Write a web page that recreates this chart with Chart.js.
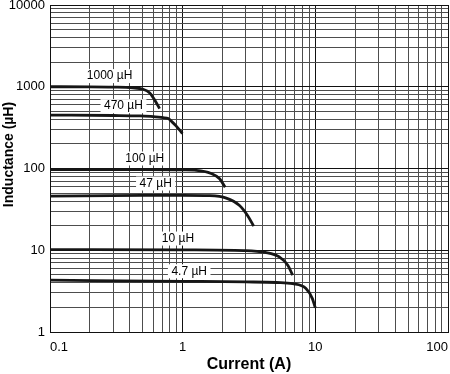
<!DOCTYPE html>
<html>
<head>
<meta charset="utf-8">
<script src="https://cdn.jsdelivr.net/npm/chart.js@4/dist/chart.umd.min.js"></script>
<style>
    html, body { margin: 0; padding: 0; background: #fff; }
    canvas { display: block; }
</style>
</head>
<body>
<canvas id="chart" width="450" height="374"></canvas>
<script>
// inductance vs current, one pair of arrays per part
const current_1000 = [0.1, 0.2, 0.3, 0.42, 0.5, 0.565, 0.615, 0.67];
const induct_1000 = [1000, 998, 990, 970, 935, 840, 690, 540];
const current_470 = [0.1, 0.3, 0.475, 0.6, 0.71, 0.78, 0.82, 0.895, 0.995];
const induct_470 = [450, 445, 440, 432, 418, 409, 380, 330, 268];
const current_100 = [0.1, 0.5, 1.0, 1.27, 1.64, 1.9, 2.09];
const induct_100 = [97, 97, 96, 95, 87, 75, 59];
const current_47 = [0.1, 0.5, 1.0, 1.6, 2.13, 2.67, 3.1, 3.43];
const induct_47 = [46, 46.8, 47, 46.5, 43.5, 35.5, 26.3, 19.7];
const current_10 = [0.1, 1, 2.9, 4.2, 5.35, 6.2, 6.75];
const induct_10 = [10.2, 10.1, 9.9, 9.4, 8.3, 6.55, 4.95];
const current_4_7 = [0.1, 1, 3, 5.1, 6.75, 8.5, 9.5, 10.0];
const induct_4_7 = [4.3, 4.17, 4.1, 4.03, 3.9, 3.4, 2.56, 1.97];

const curveCurrents = [current_1000, current_470, current_100, current_47, current_10, current_4_7];
const curveInducts = [induct_1000, induct_470, induct_100, induct_47, induct_10, induct_4_7];

const labelText = ['1000 µH', '470 µH', '100 µH', '47 µH', '10 µH', '4.7 µH'];
const labelCurrent = [0.2815, 0.358, 0.518, 0.626, 0.922, 1.12];
const labelInduct = [1350, 579, 132.5, 65.5, 13.9, 5.53];

const xTickValues = [0.1, 1, 10, 100];
const xTickLabels = ['0.1', '1', '10', '100'];
const yTickValues = [1, 10, 100, 1000, 10000];
const yTickLabels = ['1', '10', '100', '1000', '10000'];

const FONT = '"Liberation Sans", Arial, Helvetica, sans-serif';

function gridValues(decades) {
    const out = [];
    for (let i = 0; i < decades.length - 1; i++) {
        for (let k = 1; k <= 9; k++) {
            out.push(k * decades[i]);
        }
    }
    out.push(decades[decades.length - 1]);
    return out;
}

function labelFor(values, labels) {
    return function (v) {
        const i = values.findIndex(t => Math.abs(t - v) / t < 1e-6);
        return i >= 0 ? labels[i] : '';
    };
}

function isDecade(v) {
    const l = Math.log10(v);
    return Math.abs(l - Math.round(l)) < 1e-6;
}

const gridColor = ctx => (ctx.tick && isDecade(ctx.tick.value)) ? '#111' : '#4d4d4d';

const curveLabels = {
    id: 'curveLabels',
    beforeDatasetsDraw(chart) {
        const ctx = chart.ctx;
        const xs = chart.scales.x;
        const ys = chart.scales.y;
        ctx.save();
        ctx.font = '12px ' + FONT;
        ctx.textAlign = 'center';
        ctx.textBaseline = 'middle';
        labelText.forEach((t, i) => {
            const px = xs.getPixelForValue(labelCurrent[i]);
            const py = ys.getPixelForValue(labelInduct[i]);
            const w = ctx.measureText(t).width + 7;
            ctx.fillStyle = '#fff';
            ctx.fillRect(px - w / 2, py - 7, w, 14);
            ctx.fillStyle = '#000';
            ctx.fillText(t, px, py);
        });
        ctx.restore();
    }
};

const yTitle = {
    id: 'yTitle',
    afterDraw(chart) {
        const ctx = chart.ctx;
        ctx.save();
        ctx.translate(9, 154.5);
        ctx.rotate(-Math.PI / 2);
        ctx.font = 'bold 14px ' + FONT;
        ctx.fillStyle = '#000';
        ctx.textAlign = 'center';
        ctx.textBaseline = 'middle';
        ctx.fillText('Inductance (µH)', 0, 0);
        ctx.restore();
    }
};

const datasets = curveCurrents.map((xs, i) => ({
    label: labelText[i],
    data: xs.map((x, j) => ({ x: x, y: curveInducts[i][j] })),
    borderColor: '#161616',
    borderWidth: 2.8,
    pointRadius: 0,
    fill: false,
    cubicInterpolationMode: 'monotone'
}));

new Chart(document.getElementById('chart').getContext('2d'), {
    type: 'line',
    data: { datasets: datasets },
    plugins: [curveLabels, yTitle],
    options: {
        responsive: false,
        animation: false,
        layout: { padding: { top: 5, right: 2, left: 0, bottom: 0 } },
        plugins: {
            legend: { display: false },
            tooltip: { enabled: false }
        },
        scales: {
            x: {
                type: 'logarithmic',
                min: 0.1,
                max: 100,
                afterBuildTicks: s => { s.ticks = gridValues(xTickValues).map(v => ({ value: v })); },
                afterFit: s => {
                    s.height = 42;
                    s.paddingLeft = 0;
                    s.paddingRight = 0;
                },
                grid: { color: gridColor, lineWidth: 1, drawTicks: false },
                border: { color: '#111', width: 1 },
                ticks: {
                    autoSkip: false,
                    maxRotation: 0,
                    align: 'inner',
                    padding: 8,
                    color: '#000',
                    font: { family: FONT, size: 13 },
                    callback: labelFor(xTickValues, xTickLabels)
                },
                title: {
                    display: true,
                    text: 'Current (A)',
                    color: '#000',
                    font: { family: FONT, size: 16, weight: 'bold' },
                    padding: 0
                }
            },
            y: {
                type: 'logarithmic',
                min: 1,
                max: 10000,
                afterBuildTicks: s => { s.ticks = gridValues(yTickValues).map(v => ({ value: v })); },
                afterFit: s => {
                    s.width = 50;
                    s.paddingTop = 0;
                    s.paddingBottom = 0;
                },
                grid: { color: gridColor, lineWidth: 1, drawTicks: false },
                border: { color: '#111', width: 1 },
                ticks: {
                    autoSkip: false,
                    padding: 5,
                    color: '#000',
                    font: { family: FONT, size: 13 },
                    callback: labelFor(yTickValues, yTickLabels)
                }
            }
        }
    }
});
</script>
</body>
</html>
